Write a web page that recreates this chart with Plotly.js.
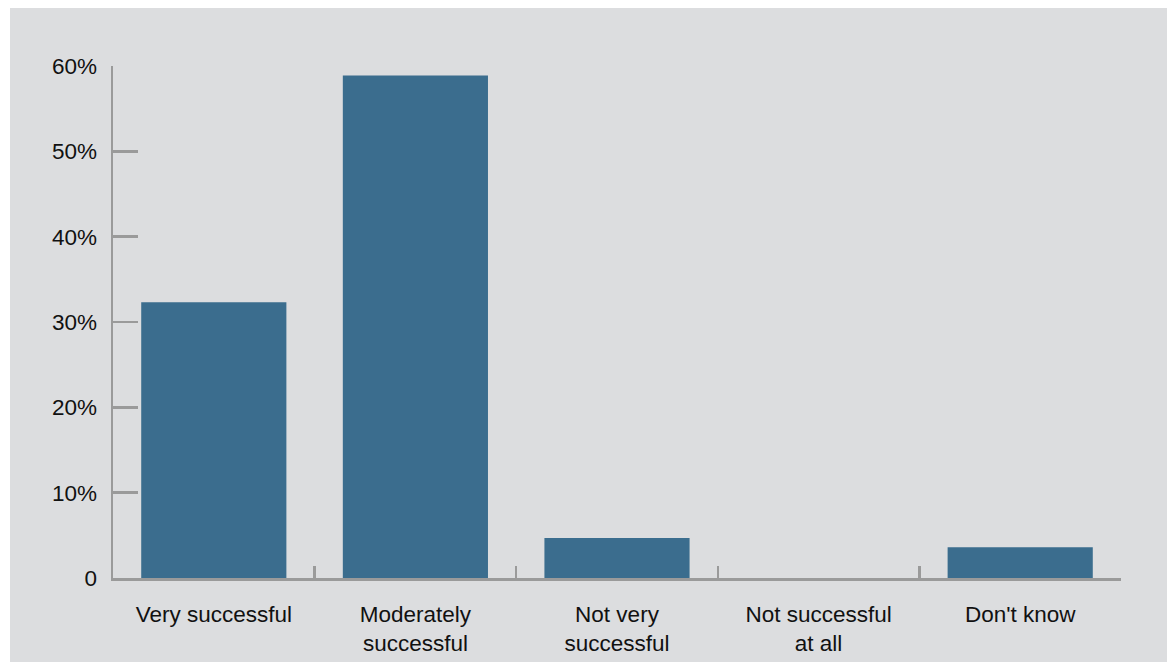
<!DOCTYPE html>
<html>
<head>
<meta charset="utf-8">
<script src="https://cdn.plot.ly/plotly-3.0.1.min.js"></script>
<style>
  html, body { margin: 0; padding: 0; background: #ffffff; width: 1167px; height: 662px; overflow: hidden; }
  #chart { position: absolute; left: 10px; top: 8px; width: 1157px; height: 654px; }
</style>
</head>
<body>
<div id="chart"></div>
<script>
const categories = ["Very successful", "Moderately<br>successful", "Not very<br>successful", "Not successful<br>at all", "Don't know"];
const shares = [32.3, 58.9, 4.7, 0, 3.6];
const yTickVals = [0, 10, 20, 30, 40, 50, 60];
const yTickText = ["0", "10%", "20%", "30%", "40%", "50%", "60%"];

const fontFam = '"Liberation Sans", Arial, sans-serif';

const trace = {
  type: 'bar',
  x: categories,
  y: shares,
  marker: { color: '#3b6d8e', line: { width: 0 } },
  hoverinfo: 'none'
};

const layout = {
  width: 1157,
  height: 654,
  paper_bgcolor: '#dcdddf',
  plot_bgcolor: '#dcdddf',
  margin: { l: 103, r: 46, t: 58, b: 84, pad: 0 },
  showlegend: false,
  bargap: 0.28,
  font: { family: fontFam, size: 22.5, color: '#111111' },
  xaxis: {
    type: 'category',
    showgrid: false,
    zeroline: false,
    showline: true,
    linecolor: '#9a9a9a',
    linewidth: 2.5,
    ticks: 'inside',
    tickson: 'boundaries',
    ticklen: 12,
    tickwidth: 2.5,
    tickcolor: '#9a9a9a',
    ticklabelstandoff: 14,
    tickfont: { family: fontFam, size: 22.5, color: '#111111' },
    fixedrange: true
  },
  yaxis: {
    range: [0, 60],
    showgrid: false,
    zeroline: false,
    showline: true,
    linecolor: '#9a9a9a',
    linewidth: 2.5,
    ticks: 'inside',
    ticklen: 25,
    tickwidth: 2.5,
    tickcolor: '#9a9a9a',
    tickmode: 'array',
    tickvals: yTickVals,
    ticktext: yTickText,
    ticklabelstandoff: 9,
    tickfont: { family: fontFam, size: 22.5, color: '#111111' },
    fixedrange: true
  }
};

Plotly.newPlot('chart', [trace], layout, { displayModeBar: false, staticPlot: true });
</script>
</body>
</html>
